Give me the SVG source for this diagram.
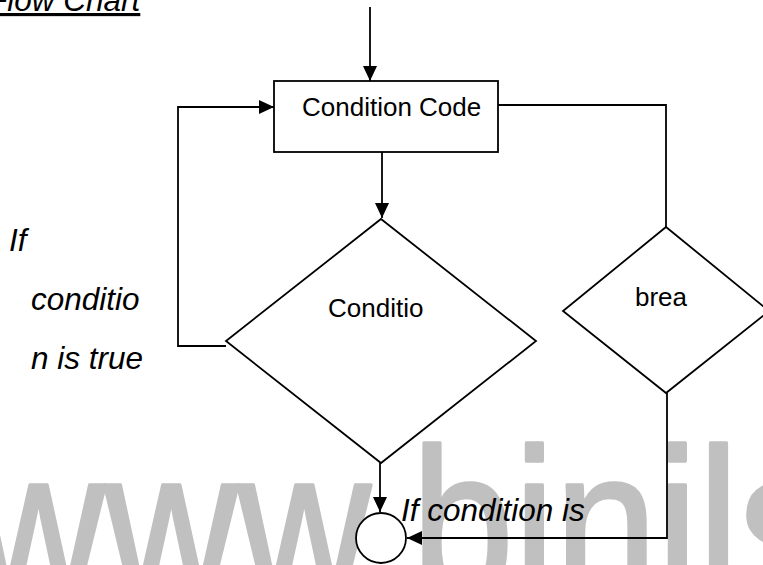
<svg xmlns="http://www.w3.org/2000/svg" width="763" height="565" viewBox="0 0 763 565">
  <style>
    .shape { fill: #ffffff; stroke: #000000; stroke-width: 1.8; }
    .wire { fill: none; stroke: #000000; stroke-width: 1.8; }
    .label { font-family: "Liberation Sans", Arial, sans-serif; font-size: 26px; fill: #000000; }
    .note { font-family: "Liberation Sans", Arial, sans-serif; font-size: 31.5px; font-style: italic; fill: #000000; }
    .mark { font-family: "Liberation Sans", Arial, sans-serif; font-size: 184px; fill: #c0c0c0; stroke: #c0c0c0; stroke-width: 3; stroke-linejoin: round; }
  </style>
  <defs>
    <marker id="arrow" markerUnits="userSpaceOnUse" markerWidth="15" markerHeight="14" refX="15" refY="7" orient="auto">
      <path d="M0,0 L15,7 L0,14 Z" fill="#000000"/>
    </marker>
  </defs>

  <rect width="763" height="565" fill="#ffffff"/>

  <!-- background watermark -->
  <text class="mark" transform="translate(-28,598) scale(1,1.16)">www.binils</text>

  <!-- heading -->
  <text class="note" x="-12" y="11" text-decoration="underline">Flow Chart</text>

  <!-- side annotations -->
  <g id="notes">
    <text class="note" x="9" y="251">If</text>
    <text class="note" x="31" y="310">conditio</text>
    <text class="note" x="31" y="369">n is true</text>
    <text class="note" x="401" y="521">If condition is</text>
  </g>

  <!-- connectors -->
  <g id="connectors">
    <path class="wire" d="M370,7 L370,81" marker-end="url(#arrow)"/>
    <path class="wire" d="M382,152 L382,218" marker-end="url(#arrow)"/>
    <path class="wire" d="M380,463 L380,512" marker-end="url(#arrow)"/>
    <path class="wire" d="M226,346 L178,346 L178,107 L274,107" marker-end="url(#arrow)"/>
    <path class="wire" d="M498,105 L666,105 L666,227"/>
    <path class="wire" d="M667,393 L667,538 L407,538" marker-end="url(#arrow)"/>
  </g>

  <!-- nodes -->
  <g id="condition-code">
    <rect class="shape" x="274" y="81" width="224" height="71"/>
    <text class="label" x="302" y="116">Condition Code</text>
  </g>

  <g id="condition">
    <polygon class="shape" points="381,219 536,341 381,463 226,341"/>
    <text class="label" x="328" y="317">Conditio</text>
  </g>

  <g id="break">
    <polygon class="shape" points="666,227 769,311 666,393 563,311"/>
    <text class="label" x="635" y="306">brea</text>
  </g>

  <g id="exit">
    <circle class="shape" cx="381" cy="538" r="25"/>
  </g>
</svg>
